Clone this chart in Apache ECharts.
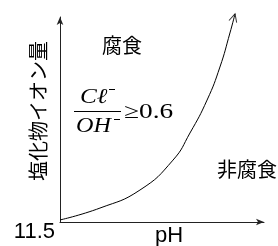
<!DOCTYPE html>
<html lang="ja">
<head>
<meta charset="UTF-8">
<title>塩化物イオン量 - pH</title>
<style>
  html, body { margin: 0; padding: 0; background: #fff; }
  #main { width: 278px; height: 246px; }
</style>
</head>
<body>
<div id="main"></div>
<script src="https://cdn.jsdelivr.net/npm/echarts@6/dist/echarts.min.js"></script>
<script>
// curve (arbitrary units, axes have no scale)
var curveX = [0, 19.6, 39.2, 55.4, 63.7, 72.1, 78.4, 83.3, 85.8];
var curveY = [1.0, 6.8, 15.6, 30.2, 43.4, 59.5, 75.6, 92.2, 101.5];
var yName = '塩化物イオン量';
var xName = 'pH';
var xStart = '11.5';
var zoneTop = '腐食';
var zoneBottom = '非腐食';
var ratioValue = '≥0.6';

var curve = curveX.map(function (x, i) { return [x, curveY[i]]; });
var tip = curve[curve.length - 1];

var jp = '20px "Noto Sans CJK JP"';
var sans = '22px "Liberation Sans"';
var serifIt = 'italic 21px "Liberation Serif"';

var chart = echarts.init(document.getElementById('main'));
var option = {
    animation: false,
    grid: { left: 60, right: 14, top: 17, bottom: 24 },
    xAxis: {
        type: 'value', min: 0, max: 100,
        axisLine: { show: true, symbol: ['none', 'arrow'], symbolSize: [5, 8], lineStyle: { color: '#222', width: 1 } },
        axisTick: { show: false }, axisLabel: { show: false }, splitLine: { show: false }
    },
    yAxis: {
        type: 'value', min: 0, max: 100,
        axisLine: { show: true, symbol: ['none', 'arrow'], symbolSize: [5, 8], lineStyle: { color: '#222', width: 1 } },
        axisTick: { show: false }, axisLabel: { show: false }, splitLine: { show: false }
    },
    series: [
        {
            type: 'line',
            data: curve,
            smooth: 0.5,
            showSymbol: false,
            clip: false,
            lineStyle: { color: '#000', width: 1 }
        },
        {
            // open arrow head at the end of the curve
            type: 'scatter',
            data: [tip],
            clip: false,
            symbol: 'path://M0,10L5,0L10,10',
            symbolSize: [8, 8],
            symbolRotate: -16,
            symbolOffset: [-1.1, 3.8],
            itemStyle: { color: 'rgba(0,0,0,0)', borderColor: '#000', borderWidth: 1 }
        }
    ],
    graphic: [
        { type: 'text', x: 38, y: 111, rotation: Math.PI / 2,
          style: { text: yName, font: jp, fill: '#000', textAlign: 'center', textVerticalAlign: 'middle' } },
        { type: 'text', x: 102, y: 45,
          style: { text: zoneTop, font: jp, fill: '#000', textAlign: 'left', textVerticalAlign: 'middle' } },
        { type: 'text', x: 217, y: 169,
          style: { text: zoneBottom, font: jp, fill: '#000', textAlign: 'left', textVerticalAlign: 'middle' } },
        { type: 'text', x: 55, y: 232,
          style: { text: xStart, font: sans, fill: '#000', textAlign: 'right', textVerticalAlign: 'middle' } },
        { type: 'text', x: 169, y: 236,
          style: { text: xName, font: sans, fill: '#000', textAlign: 'center', textVerticalAlign: 'middle' } },
        // Cl- / OH- >= 0.6
        { type: 'text', x: 80, y: 97, scaleX: 1.2,
          style: { text: 'Cℓ', font: serifIt, fill: '#000', textAlign: 'left', textVerticalAlign: 'middle' } },
        { type: 'line', shape: { x1: 109, y1: 89.5, x2: 115, y2: 89.5 }, style: { stroke: '#000', lineWidth: 1 } },
        { type: 'line', shape: { x1: 74, y1: 111.5, x2: 121, y2: 111.5 }, style: { stroke: '#000', lineWidth: 1 } },
        { type: 'text', x: 76, y: 126, scaleX: 1.15,
          style: { text: 'OH', font: serifIt, fill: '#000', textAlign: 'left', textVerticalAlign: 'middle' } },
        { type: 'line', shape: { x1: 114, y1: 119.5, x2: 120, y2: 119.5 }, style: { stroke: '#000', lineWidth: 1 } },
        { type: 'text', x: 124, y: 112, scaleX: 1.3,
          style: { text: ratioValue, font: '21px "Liberation Serif"', fill: '#000', textAlign: 'left', textVerticalAlign: 'middle' } }
    ]
};
chart.setOption(option);
</script>
</body>
</html>
